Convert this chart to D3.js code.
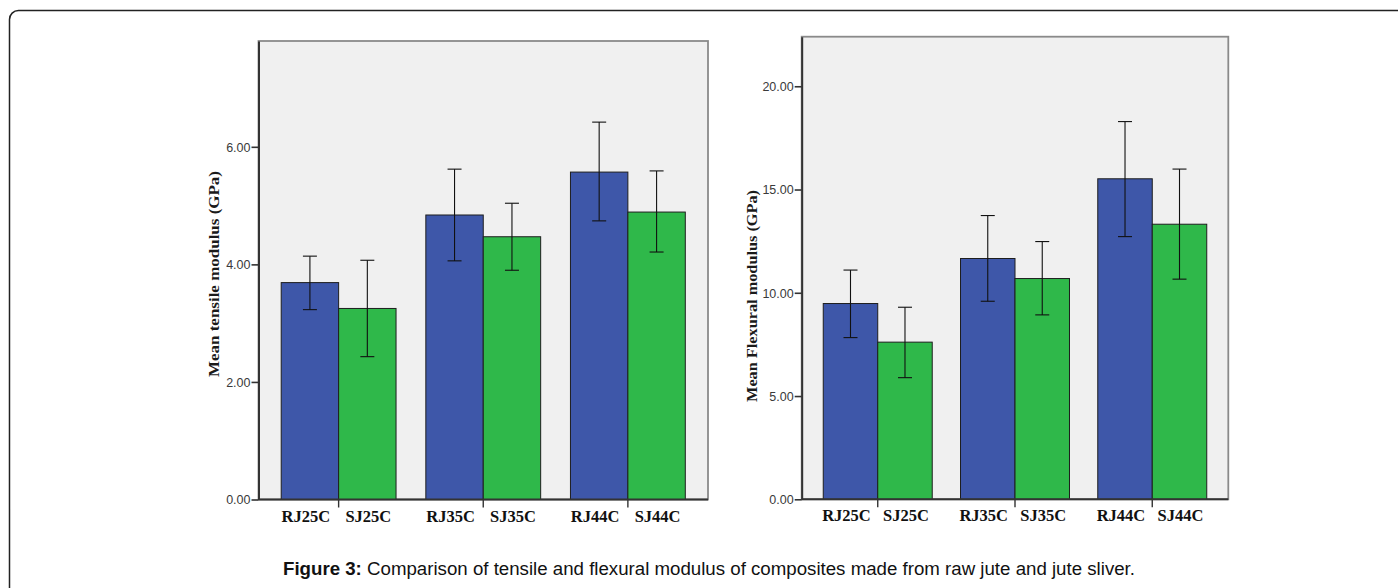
<!DOCTYPE html>
<html>
<head>
<meta charset="utf-8" />
<title>Figure 3</title>
<script src="https://cdn.jsdelivr.net/npm/d3@7/dist/d3.min.js"></script>
<style>
body { margin: 0; background: #fff; }
svg { display: block; }
</style>
</head>
<body>
<div id="chart"></div>
<script>
// groups along x, two series inside each group
const groups = ["25C", "35C", "44C"];
const series = ["RJ", "SJ"];
const seriesColor = { RJ: "#3e57a9", SJ: "#2fb84a" };

// mean tensile modulus (GPa) with error bar ends
const tensileRJ = [3.69, 4.84, 5.57];
const tensileSJ = [3.25, 4.47, 4.89];
const tensileRJLow = [3.23, 4.06, 4.74];
const tensileRJHigh = [4.14, 5.62, 6.42];
const tensileSJLow = [2.43, 3.90, 4.21];
const tensileSJHigh = [4.07, 5.04, 5.59];
const tensileTicks = [0, 2, 4, 6];

// mean flexural modulus (GPa) with error bar ends
const flexRJ = [9.48, 11.66, 15.52];
const flexSJ = [7.61, 10.69, 13.32];
const flexRJLow = [7.83, 9.59, 12.72];
const flexRJHigh = [11.10, 13.74, 18.29];
const flexSJLow = [5.89, 8.93, 10.66];
const flexSJHigh = [9.30, 12.48, 15.99];
const flexTicks = [0, 5, 10, 15, 20];

const caption = ["Figure 3:", " Comparison of tensile and flexural modulus of composites made from raw jute and jute sliver."];

const width = 1398, height = 588;
const svg = d3.select("#chart").append("svg")
	.attr("width", width)
	.attr("height", height);

// outer rounded frame (runs off the right and bottom edge)
svg.append("rect")
	.attr("x", 9.5).attr("y", 10.5)
	.attr("width", 1400).attr("height", 600)
	.attr("rx", 9)
	.attr("fill", "none")
	.attr("stroke", "#222")
	.attr("stroke-width", 1.5);

function rows(rj, sj, rjLo, rjHi, sjLo, sjHi){
	let out = [];
	groups.forEach(function(g, i){
		out.push({group: g, s: "RJ", v: rj[i], lo: rjLo[i], hi: rjHi[i]});
		out.push({group: g, s: "SJ", v: sj[i], lo: sjLo[i], hi: sjHi[i]});
	});
	return out;
}

function drawPanel(opt){
	const x0 = d3.scaleBand().domain(groups)
		.range([opt.left, opt.right])
		.paddingInner(0.206).paddingOuter(0.157);
	const x1 = d3.scaleBand().domain(series)
		.range([0, x0.bandwidth()]);
	const y = d3.scaleLinear().domain([0, opt.ymax])
		.range([opt.bottom, opt.top]);

	const g = svg.append("g");

	// plot background + light frame
	g.append("rect")
		.attr("x", opt.left).attr("y", opt.top)
		.attr("width", opt.right - opt.left)
		.attr("height", opt.bottom - opt.top)
		.attr("fill", "#f0f0f0")
		.attr("stroke", "#8a8a8a")
		.attr("stroke-width", 1.8);

	const data = opt.data;

	g.append("g").selectAll("rect")
		.data(data)
		.enter()
		.append("rect")
			.attr("x", d => x0(d.group) + x1(d.s))
			.attr("y", d => y(d.v))
			.attr("width", x1.bandwidth())
			.attr("height", d => y(0) - y(d.v))
			.attr("fill", d => seriesColor[d.s])
			.attr("stroke", "#1e1e1e")
			.attr("stroke-width", 1);

	// error bars
	const eb = g.append("g").attr("stroke", "#111").attr("stroke-width", 1.1);
	data.forEach(function(d){
		const cx = x0(d.group) + x1(d.s) + x1.bandwidth() / 2;
		eb.append("line").attr("x1", cx).attr("x2", cx)
			.attr("y1", y(d.hi)).attr("y2", y(d.lo));
		eb.append("line").attr("x1", cx - 7).attr("x2", cx + 7)
			.attr("y1", y(d.hi)).attr("y2", y(d.hi));
		eb.append("line").attr("x1", cx - 7).attr("x2", cx + 7)
			.attr("y1", y(d.lo)).attr("y2", y(d.lo));
	});

	// y axis
	const yAxis = g.append("g")
		.attr("transform", "translate(" + opt.left + ",0)")
		.call(d3.axisLeft(y).tickValues(opt.ticks).tickFormat(d3.format(".2f"))
			.tickSizeInner(7).tickSizeOuter(0).tickPadding(1));
	yAxis.select(".domain").attr("stroke", "#333").attr("stroke-width", 2);
	yAxis.selectAll(".tick line").attr("stroke", "#333").attr("stroke-width", 1.6);
	yAxis.selectAll(".tick text")
		.attr("fill", "#3a3a3a")
		.style("font-family", "'Liberation Sans', Arial, sans-serif")
		.style("font-size", "12.5px")
		.attr("dy", "0.35em");

	// x axis line
	g.append("line")
		.attr("x1", opt.left).attr("x2", opt.right)
		.attr("y1", opt.bottom).attr("y2", opt.bottom)
		.attr("stroke", "#333").attr("stroke-width", 2);

	// group divider ticks
	g.append("g").selectAll("line")
		.data(groups)
		.enter()
		.append("line")
			.attr("x1", d => x0(d) + x0.bandwidth() / 2)
			.attr("x2", d => x0(d) + x0.bandwidth() / 2)
			.attr("y1", opt.bottom).attr("y2", opt.bottom + 8)
			.attr("stroke", "#333").attr("stroke-width", 1.4);

	// category labels
	g.append("g").selectAll("text")
		.data(data)
		.enter()
		.append("text")
			.attr("x", d => x0(d.group) + x1(d.s) + x1.bandwidth() / 2 + (d.s === "RJ" ? -4 : 1))
			.attr("y", opt.bottom + 22)
			.attr("text-anchor", "middle")
			.style("font-family", "'Liberation Serif', 'Times New Roman', serif")
			.style("font-weight", "bold")
			.style("font-size", "16.5px")
			.attr("fill", "#111")
			.text(d => d.s + d.group);

	// y title
	g.append("text")
		.attr("transform", "translate(" + opt.titleX + "," + opt.titleY + ") rotate(-90)")
		.attr("text-anchor", "middle")
		.style("font-family", "'Liberation Serif', 'Times New Roman', serif")
		.style("font-weight", "bold")
		.style("font-size", "15.5px")
		.attr("fill", "#1a1a1a")
		.attr("textLength", opt.titleLen)
		.attr("lengthAdjust", "spacingAndGlyphs")
		.text(opt.title);
}

drawPanel({
	left: 258.5, right: 708, top: 41, bottom: 499.5, ymax: 7.8,
	ticks: tensileTicks,
	data: rows(tensileRJ, tensileSJ, tensileRJLow, tensileRJHigh, tensileSJLow, tensileSJHigh),
	title: "Mean tensile modulus (GPa)", titleX: 219, titleY: 274, titleLen: 206
});

drawPanel({
	left: 801.7, right: 1228.3, top: 36.7, bottom: 499.3, ymax: 22.4,
	ticks: flexTicks,
	data: rows(flexRJ, flexSJ, flexRJLow, flexRJHigh, flexSJLow, flexSJHigh),
	title: "Mean Flexural modulus (GPa)", titleX: 757, titleY: 296, titleLen: 212
});

// caption
const cap = svg.append("text")
	.attr("x", 283).attr("y", 575)
	.style("font-family", "'Liberation Sans', Arial, sans-serif")
	.style("font-size", "17.5px")
	.attr("fill", "#111")
	.attr("textLength", 852)
	.attr("lengthAdjust", "spacingAndGlyphs");
cap.append("tspan").style("font-weight", "bold").text(caption[0]);
cap.append("tspan").text(caption[1]);
</script>
</body>
</html>
